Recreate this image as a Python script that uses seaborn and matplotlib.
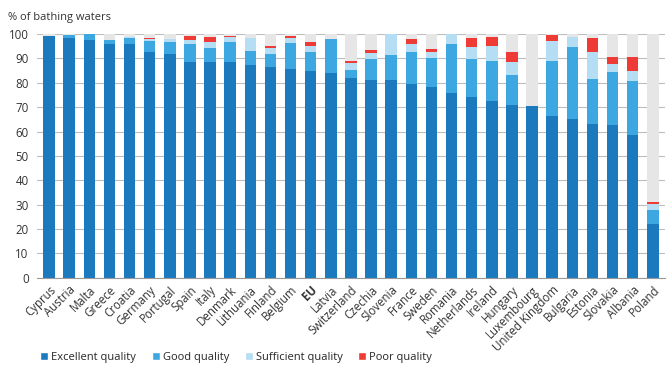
import seaborn as sns
import pandas as pd
import matplotlib.pyplot as plt
from matplotlib.patches import Patch

# Values (% of bathing waters)
countries = ['Cyprus', 'Austria', 'Malta', 'Greece', 'Croatia', 'Germany', 'Portugal', 'Spain',
             'Italy', 'Denmark', 'Lithuania', 'Finland', 'Belgium', 'EU', 'Latvia', 'Switzerland',
             'Czechia', 'Slovenia', 'France', 'Sweden', 'Romania', 'Netherlands', 'Ireland',
             'Hungary', 'Luxembourg', 'United Kingdom', 'Bulgaria', 'Estonia', 'Slovakia',
             'Albania', 'Poland']
excellent = [99.2, 98.5, 97.5, 96.0, 96.0, 92.5, 91.9, 88.5, 88.5, 88.5, 87.1, 86.6, 85.8, 84.8,
             84.1, 82.1, 81.1, 81.1, 79.7, 78.4, 76.0, 74.2, 72.6, 70.8, 70.4, 66.3, 65.2, 62.9,
             62.6, 58.5, 22.0]
good = [0.0, 1.1, 2.5, 1.5, 2.2, 4.8, 4.9, 7.3, 5.9, 8.1, 6.1, 5.2, 10.6, 7.9,
        14.0, 3.0, 8.5, 10.5, 13.0, 11.9, 19.9, 15.7, 16.4, 12.4, 0.0, 22.6, 29.6, 18.6,
        21.9, 22.3, 5.9]
sufficient = [0.0, 0.0, 0.0, 0.0, 0.7, 0.8, 1.0, 1.7, 2.4, 2.0, 5.0, 2.6, 1.8, 2.2,
              0.0, 2.9, 2.5, 8.4, 3.1, 2.2, 4.1, 4.9, 6.2, 5.2, 0.0, 8.4, 4.1, 11.0,
              3.2, 4.0, 2.3]
poor = [0.0, 0.0, 0.0, 0.0, 0.0, 0.4, 0.2, 1.7, 1.8, 0.7, 0.0, 0.7, 1.0, 1.7,
        0.0, 0.8, 1.3, 0.0, 2.0, 1.2, 0.0, 3.7, 3.4, 4.3, 0.0, 2.3, 0.0, 5.7,
        3.0, 5.9, 0.8]

df = pd.DataFrame({'country': countries, 'Excellent': excellent, 'Good': good,
                   'Sufficient': sufficient, 'Poor': poor})
df['c_good'] = df['Excellent'] + df['Good']
df['c_suff'] = df['c_good'] + df['Sufficient']
df['c_poor'] = df['c_suff'] + df['Poor']
df['total'] = 100.0

colors = {'Excellent quality': '#1a7abd', 'Good quality': '#3ca7e0',
          'Sufficient quality': '#b5ddf3', 'Poor quality': '#ee3b35'}

sns.set_style('white')
plt.rcParams['font.family'] = ['Open Sans', 'DejaVu Sans']
plt.rcParams['font.size'] = 8

fig = plt.figure(figsize=(6.71, 3.78), dpi=100)
ax = fig.add_axes([0.055, 0.265, 0.936, 0.645])

w = 0.57
layers = [('total', '#e6e6e6'), ('c_poor', colors['Poor quality']),
          ('c_suff', colors['Sufficient quality']), ('c_good', colors['Good quality']),
          ('Excellent', colors['Excellent quality'])]
for col, c in layers:
    sns.barplot(data=df, x='country', y=col, color=c, width=w, saturation=1,
                linewidth=0, ax=ax)

ax.set_ylim(0, 100)
ax.set_xlim(-0.6, len(countries) - 0.4)
ax.set_yticks(range(0, 101, 10))
ax.yaxis.grid(True, color='#bdbdbd', linewidth=0.8)
ax.set_axisbelow(True)
for s in ['top', 'right', 'left']:
    ax.spines[s].set_visible(False)
ax.spines['bottom'].set_color('#9a9a9a')
ax.set_xlabel('')
ax.set_ylabel('')

ax.set_xticks(range(len(countries)))
ax.set_xticklabels(countries, rotation=45, ha='right', rotation_mode='anchor',
                   color='#333333', fontsize=8.3)
ax.tick_params(axis='x', length=0, pad=4)
ax.tick_params(axis='y', length=0, pad=6, labelcolor='#333333', labelsize=8.3)
for lbl in ax.get_xticklabels():
    if lbl.get_text() == 'EU':
        lbl.set_fontweight('bold')
# small separator ticks between bars
ax.set_xticks([i - 0.5 for i in range(len(countries) + 1)], minor=True)
ax.tick_params(axis='x', which='minor', length=3, color='#9a9a9a')

fig.text(0.012, 0.955, '% of bathing waters', fontsize=8, color='#333333', va='center')

handles = [Patch(facecolor=c, label=k) for k, c in colors.items()]
fig.legend(handles=handles, loc='center left', bbox_to_anchor=(0.045, 0.055), ncol=4,
           frameon=False, handlelength=0.7, handleheight=0.7, handletextpad=0.3,
           columnspacing=1.4, fontsize=8)

plt.savefig('out.png', dpi=100)
